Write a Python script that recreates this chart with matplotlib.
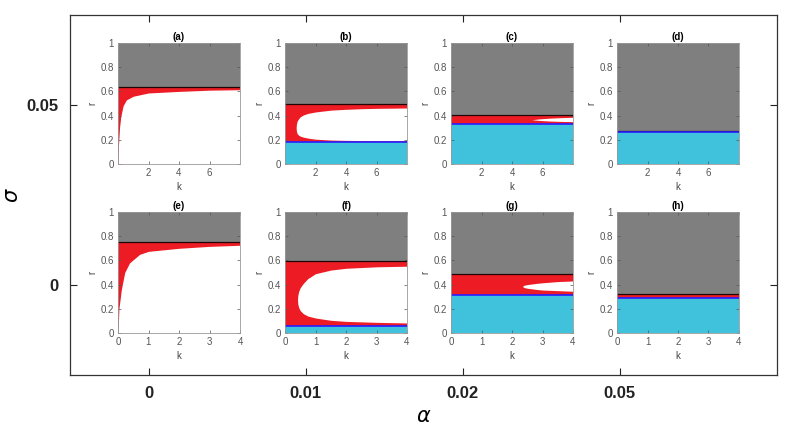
import numpy as np
import matplotlib
matplotlib.use('Agg')
import matplotlib.pyplot as plt

plt.rcParams['font.family'] = ['Liberation Sans', 'DejaVu Sans']

# ---------------------------------------------------------------
# data
# ---------------------------------------------------------------
alpha_labels = ['0', '0.01', '0.02', '0.05']
sigma_labels = ['0', '0.05']
panel_tags = ['(a)', '(b)', '(c)', '(d)', '(e)', '(f)', '(g)', '(h)']

k_max_top = 8.0     # sigma = 0.05 row
k_max_bot = 4.0     # sigma = 0 row

# r above which gray, r below which cyan (0 = no cyan)
r_top = [0.636, 0.495, 0.408, 0.270, 0.752, 0.596, 0.485, 0.320]
r_bot = [0.0, 0.178, 0.330, 0.263, 0.0, 0.058, 0.311, 0.291]

# white region: k, upper edge, lower edge
k_a = [0, 0.03, 0.1, 0.18, 0.33, 0.55, 1.0, 2, 4, 6, 8]
up_a = [0, 0.15, 0.30, 0.39, 0.48, 0.53, 0.56, 0.587, 0.60, 0.61, 0.614]
lo_a = [0] * len(k_a)

k_b = [0.73, 0.75, 0.8, 0.9, 1.0, 1.2, 1.5, 2, 3, 4, 5, 6, 8]
up_b = [0.30, 0.33, 0.355, 0.375, 0.39, 0.405, 0.418, 0.43, 0.445, 0.452, 0.457, 0.46, 0.463]
lo_b = [0.30, 0.27, 0.25, 0.238, 0.23, 0.222, 0.214, 0.205, 0.198, 0.195, 0.194, 0.193, 0.193]

k_c = [5.3, 5.8, 6.5, 7.2, 8]
up_c = [0.366, 0.373, 0.379, 0.383, 0.386]
lo_c = [0.366, 0.36, 0.355, 0.352, 0.350]

k_d, up_d, lo_d = [], [], []

k_e = [0, 0.03, 0.11, 0.22, 0.38, 0.71, 1.0, 2, 3, 4]
up_e = [0, 0.2, 0.36, 0.50, 0.58, 0.65, 0.675, 0.70, 0.716, 0.725]
lo_e = [0] * len(k_e)

k_f = [0.41, 0.42, 0.45, 0.5, 0.6, 0.75, 1.0, 1.5, 2, 3, 4]
up_f = [0.275, 0.31, 0.345, 0.375, 0.41, 0.45, 0.49, 0.52, 0.535, 0.547, 0.552]
lo_f = [0.275, 0.24, 0.21, 0.185, 0.16, 0.14, 0.124, 0.105, 0.096, 0.088, 0.083]

k_g = [2.34, 2.4, 2.5, 2.8, 3.0, 3.5, 4]
up_g = [0.385, 0.395, 0.40, 0.41, 0.415, 0.425, 0.43]
lo_g = [0.385, 0.375, 0.37, 0.36, 0.355, 0.35, 0.345]

k_h, up_h, lo_h = [], [], []

white_k = [k_a, k_b, k_c, k_d, k_e, k_f, k_g, k_h]
white_up = [up_a, up_b, up_c, up_d, up_e, up_f, up_g, up_h]
white_lo = [lo_a, lo_b, lo_c, lo_d, lo_e, lo_f, lo_g, lo_h]

GRAY = '#7f7f7f'
RED = '#ed1c24'
CYAN = '#41c2dc'
BLUE = '#2a1cff'

# ---------------------------------------------------------------
fig = plt.figure(figsize=(7.87, 4.30), dpi=100)

# outer frame axes (alpha vs sigma)
outer = fig.add_axes([70 / 787, 1 - 375 / 430, 707 / 787, 360 / 430])
outer.set_xlim(0.5, 5.0)
outer.set_ylim(-0.5, 1.5)
outer.set_xticks([1, 2, 3, 4])
outer.set_xticklabels(alpha_labels, fontweight='bold', fontsize=12)
outer.set_yticks([0, 1])
outer.set_yticklabels(sigma_labels, fontweight='bold', fontsize=12)
outer.tick_params(direction='in', length=5, width=0.8, top=True, right=True,
                  pad=8, colors='#222222')
for s in outer.spines.values():
    s.set_color('#333333')
    s.set_linewidth(0.9)
outer.set_xlabel(r'$\alpha$', fontsize=15, labelpad=4)
outer.set_ylabel(r'$\sigma$', fontsize=15)
outer.yaxis.set_label_coords(-0.068, 0.5)

lefts = [118, 285, 451, 617]
tops = [43, 212]
w_px, h_px = 122, 121

for i in range(8):
    row, col = divmod(i, 4)
    ax = fig.add_axes([lefts[col] / 787, 1 - (tops[row] + h_px) / 430,
                       w_px / 787, h_px / 430])
    kmax = k_max_top if row == 0 else k_max_bot
    kk = np.array([0, kmax])

    ax.fill_between(kk, r_top[i], 1, color=GRAY, lw=0)
    ax.fill_between(kk, r_bot[i], r_top[i], color=RED, lw=0)
    if r_bot[i] > 0:
        ax.fill_between(kk, 0, r_bot[i], color=CYAN, lw=0)
    if white_k[i]:
        ax.fill_between(white_k[i], white_lo[i], white_up[i], color='white', lw=0)
    ax.plot(kk, [r_top[i]] * 2, color='black', lw=0.9, alpha=0.85)
    if r_bot[i] > 0:
        ax.plot(kk, [r_bot[i]] * 2, color=BLUE, lw=1.2)

    ax.set_xlim(0, kmax)
    ax.set_ylim(0, 1)
    if row == 0:
        ax.set_xticks([2, 4, 6])
    else:
        ax.set_xticks([0, 1, 2, 3, 4])
    ax.set_yticks([0, 0.2, 0.4, 0.6, 0.8, 1])
    ax.set_yticklabels(['0', '0.2', '0.4', '0.6', '0.8', '1'])
    ax.tick_params(direction='in', length=2, width=0.5, top=True, right=True,
                   labelsize=7, colors='#555555', pad=3)
    for s in ax.spines.values():
        s.set_color('#999999')
        s.set_linewidth(0.6)
    ax.set_xlabel('k', fontsize=7, color='#444444', labelpad=3)
    ax.set_ylabel('r', fontsize=7, color='#444444', labelpad=2)
    ax.set_title(panel_tags[i], fontsize=7, fontweight='bold', pad=2)

fig.savefig('out.png', dpi=100)
